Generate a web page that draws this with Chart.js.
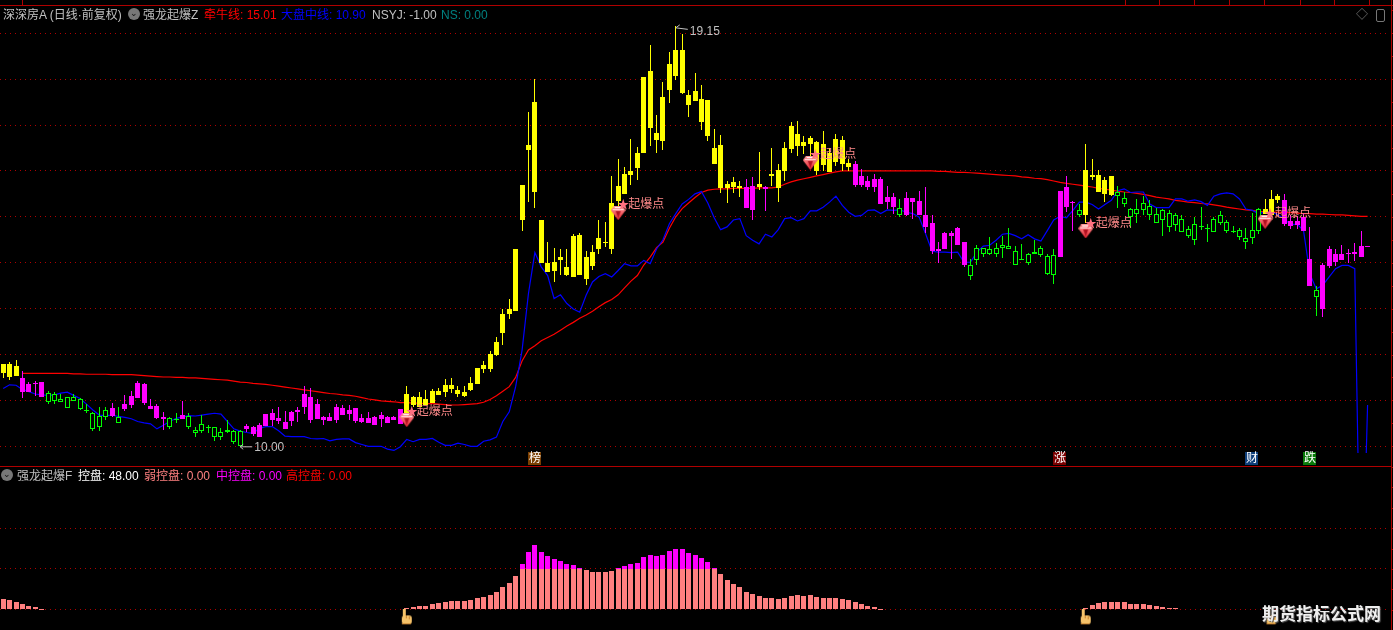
<!DOCTYPE html>
<html>
<head>
<meta charset="utf-8">
<title>深深房A</title>
<script src="https://cdn.jsdelivr.net/npm/chart.js@4/dist/chart.umd.min.js"></script>
<style>
    html, body { margin: 0; padding: 0; background: #000; overflow: hidden; width: 1393px; height: 630px; }
    body { position: relative; font: 12px "Liberation Sans", "Noto Sans CJK SC", sans-serif; color: #c0c0c0; }
    canvas { position: absolute; left: 0; display: block; }
    #mainChart { top: 0; }
    #lowerChart { top: 467px; }
    .rule { position: absolute; background: #b00000; }
    .t { position: absolute; white-space: pre; line-height: 14px; }
    .knob { position: absolute; width: 12px; height: 12px; border-radius: 50%; background: #777; color: #111; font-size: 9px; line-height: 11px; text-align: center; }
    .box { position: absolute; width: 7px; height: 11px; border: 1px solid #777; border-radius: 2px; }
    #mark { position: absolute; left: 1262px; top: 602px; font: 700 17px "Noto Sans CJK SC", sans-serif; line-height: 22px; color: #eee; text-shadow: 1px 1px 1px #555; white-space: pre; }
</style>
</head>
<body>
<canvas id="mainChart" width="1393" height="467"></canvas>
<canvas id="lowerChart" width="1393" height="163"></canvas>

<div class="rule" style="left:0;top:5px;width:1393px;height:1px"></div>
<div class="rule" style="left:0;top:466px;width:1391px;height:1px"></div>
<div class="rule" style="left:22px;top:0;width:1px;height:5px"></div>

<span class="t" style="left:3px;top:8px">深深房A (日线·前复权)</span>
<span class="knob" style="left:128px;top:8px">⌄</span>
<span class="t" style="left:143px;top:8px">强龙起爆Z</span>
<span class="t" style="left:204px;top:8px;color:#f00">牵牛线: 15.01</span>
<span class="t" style="left:281px;top:8px;color:#00f">大盘中线: 10.90</span>
<span class="t" style="left:372px;top:8px;color:#c0c0c0">NSYJ: -1.00</span>
<span class="t" style="left:441px;top:8px;color:#008080">NS: 0.00</span>
<span class="t" style="left:1356px;top:8px;color:#777">◇</span>
<span class="box" style="left:1376px;top:9px"></span>

<span class="knob" style="left:1px;top:469px">⌄</span>
<span class="t" style="left:17px;top:469px">强龙起爆F</span>
<span class="t" style="left:78px;top:469px;color:#fff">控盘: 48.00</span>
<span class="t" style="left:144px;top:469px;color:#ff8080">弱控盘: 0.00</span>
<span class="t" style="left:216px;top:469px;color:#f0f">中控盘: 0.00</span>
<span class="t" style="left:286px;top:469px;color:#f00">高控盘: 0.00</span>
<div id="mark">期货指标公式网</div>

<script>
// Candles (price units), one row per ten days
const highs = [
    11.80,11.83,11.88,11.64,11.40,11.42,11.41,11.20,11.18,11.15,
    11.08,11.13,11.05,10.93,10.75,10.85,10.85,10.94,10.86,11.12,
    11.20,11.42,11.37,11.04,10.93,10.74,10.64,10.73,10.99,10.72,
    10.43,10.68,10.46,10.43,10.39,10.57,10.36,10.36,10.49,10.45,
    10.51,10.70,10.81,10.86,10.76,10.77,10.85,11.31,11.27,11.04,
    10.67,10.72,10.93,10.90,10.91,10.83,10.70,10.75,10.67,10.75,
    10.66,10.67,10.81,11.31,11.09,11.18,11.22,11.25,11.28,11.46,
    11.49,11.31,11.31,11.51,11.70,11.86,12.07,12.39,13.00,13.20,
    14.29,15.70,17.29,18.00,14.94,14.46,14.32,14.29,14.29,14.63,
    14.64,14.25,14.38,14.94,14.88,15.90,16.27,16.09,16.70,16.53,
    18.05,18.75,17.22,17.94,18.60,19.15,18.98,17.77,18.14,17.88,
    17.55,16.92,16.79,15.77,15.86,15.79,15.82,15.86,16.42,15.68,
    16.49,16.14,16.64,17.06,17.08,16.77,16.77,16.66,16.88,16.50,
    16.80,16.75,16.27,16.22,16.05,15.90,15.94,15.86,15.68,15.51,
    15.38,15.55,15.40,15.57,15.66,15.05,14.46,14.67,14.69,14.78,
    14.46,14.07,14.38,14.31,14.55,14.44,14.59,14.75,14.36,14.40,
    14.22,14.50,14.36,14.18,14.29,15.56,15.88,15.35,15.27,16.59,
    16.25,16.01,15.86,15.88,15.67,15.54,15.20,15.38,15.46,15.36,
    15.20,15.18,15.14,15.09,15.05,14.80,14.99,15.22,14.84,15.00,
    15.12,14.92,14.80,14.75,14.75,15.09,15.20,15.38,15.59,15.49,
    15.49,15.03,15.01,15.07,14.77,13.50,13.99,14.36,14.29,14.38,
    14.29,14.42,14.68,14.36
];
const bodyTops = [
    11.80,11.80,11.76,11.49,11.36,11.37,11.40,11.17,11.13,11.04,
    11.07,11.07,11.02,10.80,10.72,10.65,10.80,10.83,10.63,10.92,
    11.09,11.38,11.36,10.88,10.88,10.64,10.61,10.60,10.68,10.65,
    10.35,10.49,10.43,10.41,10.32,10.36,10.33,10.33,10.44,10.42,
    10.46,10.70,10.72,10.62,10.53,10.75,10.79,11.15,11.07,10.93,
    10.63,10.64,10.86,10.83,10.79,10.83,10.62,10.62,10.64,10.68,
    10.64,10.63,10.81,11.14,11.07,11.07,11.03,11.20,11.20,11.33,
    11.33,11.22,11.18,11.38,11.70,11.77,12.01,12.27,12.88,12.99,
    14.29,15.70,16.57,17.50,14.94,13.99,14.02,14.12,13.90,14.59,
    14.60,14.12,14.23,14.54,14.45,15.31,15.68,15.94,16.00,16.40,
    18.05,18.18,16.83,17.62,18.33,18.64,18.64,17.66,17.75,17.57,
    17.55,16.49,16.57,15.72,15.75,15.68,15.66,15.68,15.72,15.64,
    15.94,16.03,16.49,16.97,16.81,16.62,16.72,16.64,16.59,16.38,
    16.70,16.68,16.18,16.14,15.88,15.77,15.83,15.83,15.44,15.44,
    15.20,15.40,15.40,15.35,15.05,14.86,14.29,14.64,14.64,14.75,
    14.46,13.96,14.31,14.31,14.29,14.33,14.38,14.36,14.25,14.07,
    14.20,14.23,14.33,14.14,14.16,15.56,15.65,15.32,15.14,16.03,
    15.92,15.92,15.81,15.88,15.54,15.41,15.16,15.16,15.29,15.24,
    15.07,15.14,15.09,15.05,14.96,14.74,14.84,14.80,14.75,14.96,
    15.05,14.88,14.69,14.71,14.53,14.71,15.16,15.16,15.38,15.45,
    15.36,14.91,14.91,15.00,14.09,13.40,13.94,14.29,14.20,14.20,
    14.21,14.23,14.36,14.36
];
const bodyBottoms = [
    11.60,11.50,11.53,11.18,11.18,11.35,11.07,10.97,10.99,10.97,
    10.84,10.98,10.81,10.78,10.38,10.43,10.64,10.67,10.51,10.81,
    10.90,11.06,10.94,10.81,10.62,10.59,10.43,10.58,10.59,10.41,
    10.30,10.33,10.40,10.21,10.20,10.31,10.09,10.00,10.37,10.26,
    10.21,10.44,10.57,10.55,10.38,10.55,10.75,10.86,10.57,10.59,
    10.57,10.55,10.57,10.68,10.70,10.55,10.54,10.51,10.46,10.59,
    10.51,10.57,10.49,10.73,10.90,10.86,10.90,10.94,11.12,11.18,
    11.25,11.14,11.09,11.22,11.36,11.68,11.68,11.99,12.46,12.88,
    12.94,14.92,16.46,15.54,14.00,13.80,13.82,14.05,13.73,13.69,
    13.73,13.64,13.93,14.30,14.43,14.29,15.35,15.50,15.92,16.07,
    16.38,16.94,16.68,16.66,17.77,18.07,17.70,17.44,17.53,17.07,
    16.75,16.14,15.62,15.62,15.64,15.62,15.20,15.14,15.65,15.61,
    15.90,15.63,15.99,16.47,16.55,16.55,16.59,15.99,16.12,15.98,
    16.20,16.15,16.09,15.70,15.70,15.64,15.64,15.27,15.33,15.22,
    15.03,15.03,15.33,15.03,14.78,14.25,14.25,14.30,14.58,14.39,
    13.94,13.72,14.05,14.20,14.20,14.18,14.31,14.29,13.96,14.06,
    13.99,14.20,14.17,13.75,13.73,14.12,15.22,15.30,15.03,15.03,
    15.86,15.55,15.49,15.47,15.46,15.27,14.99,15.07,15.14,15.03,
    14.86,14.92,14.77,14.83,14.66,14.59,14.49,14.78,14.73,14.66,
    14.86,14.68,14.67,14.56,14.45,14.53,14.68,15.07,15.05,15.36,
    14.84,14.80,14.82,14.70,13.49,13.25,12.99,13.92,14.01,14.05,
    14.19,14.19,14.12,14.35
];
const lows = [
    11.49,11.44,11.53,11.06,11.18,11.10,11.07,10.92,10.93,10.97,
    10.84,10.98,10.80,10.72,10.34,10.34,10.57,10.63,10.51,10.77,
    10.84,11.06,10.91,10.81,10.59,10.36,10.38,10.50,10.59,10.38,
    10.21,10.28,10.29,10.12,10.14,10.30,10.05,10.00,10.32,10.23,
    10.21,10.44,10.44,10.49,10.38,10.44,10.53,10.70,10.51,10.59,
    10.46,10.55,10.51,10.68,10.57,10.51,10.51,10.50,10.46,10.43,
    10.50,10.57,10.49,10.73,10.86,10.86,10.90,10.94,11.12,11.08,
    11.16,11.07,11.07,11.20,11.36,11.59,11.62,11.96,12.20,12.77,
    12.94,14.70,15.32,15.19,14.00,13.80,13.57,13.73,13.71,13.69,
    13.73,13.51,13.84,14.20,14.35,14.20,15.24,15.50,15.70,15.81,
    16.38,16.55,16.38,16.46,17.49,17.99,17.68,17.18,17.53,16.90,
    16.66,16.14,15.51,15.29,15.51,15.44,15.20,14.92,15.59,15.12,
    15.68,15.33,15.77,16.40,16.33,16.36,16.33,15.91,16.00,15.98,
    16.10,16.00,16.00,15.64,15.66,15.59,15.54,15.27,15.18,15.07,
    14.99,15.01,14.96,15.03,14.65,14.20,13.99,14.30,14.09,14.39,
    13.90,13.63,13.94,14.12,14.16,14.12,14.10,14.29,13.96,14.06,
    13.96,14.19,14.12,13.73,13.54,14.12,15.11,14.70,15.00,14.86,
    15.81,15.53,15.33,15.45,15.20,15.22,14.76,14.86,15.03,14.92,
    14.86,14.59,14.66,14.70,14.66,14.54,14.38,14.72,14.45,14.66,
    14.83,14.64,14.64,14.49,14.29,14.40,14.62,15.06,15.03,15.29,
    14.80,14.74,14.74,14.70,13.49,12.83,12.81,13.88,13.92,14.05,
    13.99,14.04,14.12,14.35
];
// Y yellow, M magenta, G hollow green: [colour, number of days in a row]
const colourRuns = [
    ['Y',3],['M',4],['G',10],['M',1],['G',1],['M',7],['G',2],['M',1],['G',9],['M',25],
    ['Y',53],['M',2],['Y',1],['M',1],['Y',13],['M',7],['G',1],['M',10],['G',14],['M',3],
    ['G',1],['Y',5],['G',23],['Y',3],['M',5],['G',1],['M',8]
];
// 牵牛线 (red)
const bullLine = [
    null,null,null,11.59,11.59,11.59,11.59,11.59,11.59,11.59,
    11.59,11.58,11.58,11.57,11.57,11.57,11.57,11.56,11.56,11.56,
    11.56,11.55,11.54,11.53,11.52,11.51,11.51,11.50,11.50,11.49,
    11.49,11.48,11.47,11.46,11.45,11.44,11.42,11.40,11.39,11.37,
    11.36,11.35,11.33,11.31,11.29,11.27,11.25,11.23,11.21,11.19,
    11.17,11.15,11.14,11.12,11.11,11.09,11.06,11.03,11.01,10.99,
    10.98,10.97,10.95,10.95,10.94,10.94,10.93,10.93,10.92,10.91,
    10.90,10.90,10.91,10.92,10.93,10.96,11.02,11.10,11.20,11.30,
    11.50,11.86,12.10,12.19,12.30,12.37,12.44,12.53,12.62,12.70,
    12.79,12.86,12.94,13.04,13.13,13.20,13.30,13.45,13.60,13.72,
    13.95,14.12,14.33,14.45,14.75,15.00,15.18,15.30,15.42,15.53,
    15.58,15.60,15.61,15.61,15.62,15.62,15.62,15.62,15.63,15.63,
    15.63,15.65,15.71,15.76,15.80,15.83,15.86,15.89,15.92,15.95,
    15.98,16.00,16.00,16.00,16.00,16.00,16.00,16.00,16.00,16.00,
    16.00,16.00,16.00,16.00,16.00,16.00,15.99,15.99,15.98,15.97,
    15.97,15.96,15.95,15.94,15.93,15.92,15.91,15.90,15.89,15.87,
    15.86,15.84,15.83,15.81,15.78,15.75,15.73,15.71,15.69,15.67,
    15.65,15.62,15.60,15.58,15.56,15.54,15.53,15.51,15.49,15.46,
    15.43,15.41,15.39,15.36,15.34,15.32,15.31,15.29,15.28,15.26,
    15.24,15.21,15.19,15.17,15.15,15.14,15.12,15.11,15.10,15.10,
    15.09,15.09,15.08,15.07,15.07,15.06,15.06,15.05,15.04,15.04,
    15.03,15.02,15.01,15.01
];
// 大盘中线 (blue)
const marketLine = [
    11.26,11.34,11.33,11.24,11.19,11.14,11.12,11.11,11.12,11.16,
    11.18,11.11,11.04,10.92,10.79,10.68,10.67,10.68,10.65,10.63,
    10.60,10.54,10.51,10.49,10.38,10.46,10.54,10.61,10.64,10.67,
    10.66,10.68,10.70,10.72,10.70,10.54,10.38,10.33,10.30,10.28,
    10.39,10.43,10.43,10.34,10.22,10.21,10.21,10.21,10.17,10.16,
    10.17,10.12,10.15,10.16,10.16,10.08,10.04,10.00,10.00,10.00,
    9.94,9.91,9.99,10.15,10.10,10.15,10.15,10.17,10.09,10.02,
    10.02,10.07,10.04,10.00,10.00,10.11,10.14,10.20,10.54,10.75,
    11.30,12.09,13.33,14.22,13.91,13.72,13.22,13.30,13.11,12.99,
    12.92,13.29,13.58,13.70,13.76,13.69,13.83,13.98,13.93,13.93,
    14.05,13.98,14.30,14.50,14.85,15.07,15.28,15.38,15.50,15.55,
    15.30,14.98,14.72,14.78,14.93,14.96,14.59,14.49,14.41,14.62,
    14.56,14.72,14.96,14.98,14.91,14.96,15.13,15.13,15.21,15.32,
    15.45,15.25,15.10,15.01,15.03,15.14,15.15,15.07,15.15,15.14,
    15.15,15.10,15.07,14.99,14.63,14.25,14.23,14.23,14.22,14.23,
    14.01,14.01,14.23,14.36,14.38,14.49,14.62,14.64,14.59,14.52,
    14.61,14.52,14.47,14.70,14.93,15.01,14.98,15.14,15.32,15.32,
    15.27,15.17,15.27,15.36,15.57,15.61,15.53,15.54,15.54,15.28,
    15.20,15.20,15.20,15.39,15.39,15.34,15.37,15.33,15.25,15.45,
    15.50,15.52,15.50,15.39,15.17,15.14,15.07,15.10,15.10,15.05,
    14.95,14.83,14.84,14.70,13.75,13.43,13.51,13.69,13.87,13.94,
    13.94,13.87,5.80,10.90
];
// 控盘 histogram
const control = [
    13.5,12.3,9.8,7.4,4.9,3.7,1.2,0,0,0,
    0,0,0,0,0,0,0,0,0,0,
    0,0,0,0,0,0,0,0,0,0,
    0,0,0,0,0,0,0,0,0,0,
    0,0,0,0,0,0,0,0,0,0,
    0,0,0,0,0,0,0,0,0,0,
    0,0,0,2.5,3.7,4.9,4.9,7.4,8.6,9.8,
    11,11,11,12.3,14.8,16,18.4,22,28.3,33.2,
    41.8,56.6,71.3,78.7,71.3,66.4,62.7,60.2,56.6,55.3,
    51.6,49.2,46.7,46.7,46.7,48,51.6,54.1,56.6,57.8,
    65.2,67.6,66.4,67.6,72.5,75,73.8,70,67.6,63.9,
    59,51.6,44.3,36.9,32,28.3,22,19.7,17.2,14.8,
    14.8,13.5,14.8,17.2,18.4,17.2,18.4,16,14.8,14.8,
    14.8,13.5,12.3,9.8,7.4,4.9,3.7,1.2,0,0,
    0,0,0,0,0,0,0,0,0,0,
    0,0,0,0,0,0,0,0,0,0,
    0,0,0,0,0,0,0,0,0,2.5,
    6.1,8.6,9.8,9.8,9.8,9.8,7.4,7.4,7.4,6.1,
    4.9,3.7,2.5,2.5
];

// Labels and markers
const blastDays = [63, 96, 126, 169, 197];
const blastPrices = [10.57, 15.08, 16.17, 14.68, 14.89];
const blastText = '起爆点';
const handDays = [63, 169, 198];
const handLevels = [-9, -9, -9];
const newsDays = [83, 165, 195, 204];
const newsText = ['榜', '涨', '财', '跌'];
const newsColours = ['#7a3e00', '#7a0000', '#0f3f7a', '#0a7a0a'];
const highDay = 105, highText = '19.15', highPrice = 19.15;
const lowDay = 37, lowText = '10.00', lowPrice = 10.00;
const priceGrid = [10, 11, 12, 13, 14, 15, 16, 17, 18, 19];
const controlGrid = [0, 50, 100];

// One slot per day, the last few stay empty like on the terminal
const categories = Array.from({ length: 217 }, (_, i) => String(i));

const colourOf = { Y: '#ffff00', M: '#ff00ff', G: '#00ff00' };
const dayColours = colourRuns.flatMap(([c, n]) => Array(n).fill(c));
const greyText = '#c0c0c0';
const cnFont = '12px "Liberation Sans", "Noto Sans CJK SC", sans-serif';

function makeGem() {
    const c = document.createElement('canvas');
    c.width = 15; c.height = 14;
    const g = c.getContext('2d');
    const grad = g.createLinearGradient(0, 0, 0, 14);
    grad.addColorStop(0, '#ff9a9a');
    grad.addColorStop(1, '#e8202c');
    g.fillStyle = grad;
    g.beginPath();
    g.moveTo(3, 0); g.lineTo(12, 0); g.lineTo(15, 4); g.lineTo(7.5, 14); g.lineTo(0, 4);
    g.closePath();
    g.fill();
    g.fillStyle = '#ffe0e0';
    g.fillRect(2, 3, 11, 1);
    g.fillStyle = '#ffffff';
    g.fillRect(4, 1, 7, 1);
    g.fillStyle = '#b01020';
    g.beginPath();
    g.moveTo(5, 5); g.lineTo(10, 5); g.lineTo(7.5, 12);
    g.closePath();
    g.fill();
    return c;
}

function makeHand() {
    const c = document.createElement('canvas');
    c.width = 12; c.height = 16;
    const g = c.getContext('2d');
    g.fillStyle = '#f6c36a';
    g.fillRect(2, 0, 3, 9);
    g.beginPath();
    g.roundRect(1, 6, 10, 9, 3);
    g.fill();
    g.fillStyle = '#c9822e';
    g.fillRect(1, 14, 9, 1);
    g.fillRect(5, 6, 1, 3);
    g.fillRect(8, 7, 1, 3);
    return c;
}

// Terminal draws on whole pixels, so push the bars onto the pixel grid
const snapBars = {
    id: 'snapBars',
    afterDatasetsUpdate(chart) {
        chart.getSortedVisibleDatasetMetas().forEach(meta => {
            if (meta.type !== 'bar') return;
            meta.data.forEach(el => {
                el.x = Math.floor(el.x) + 0.5;
                el.y = Math.round(el.y);
                el.base = Math.round(el.base);
                if (el.y === el.base) el.base = el.y + 1;
            });
        });
    }
};

function drawRightEdge(chart, step, from, to) {
    const ctx = chart.ctx, y = chart.scales.y;
    ctx.save();
    ctx.fillStyle = '#b00000';
    ctx.fillRect(1391, 0, 1, chart.height);
    for (let v = from; v <= to; v += step) {
        ctx.fillRect(1391, Math.round(y.getPixelForValue(v)), 2, 1);
    }
    ctx.restore();
}

const mainOverlay = {
    id: 'mainOverlay',
    afterDraw(chart) {
        const ctx = chart.ctx, x = chart.scales.x, y = chart.scales.y;
        ctx.save();
        ctx.font = cnFont;
        ctx.textBaseline = 'middle';

        blastDays.forEach((day, k) => {
            const px = x.getPixelForValue(day), py = y.getPixelForValue(blastPrices[k]);
            ctx.fillStyle = '#ff7080';
            ctx.textAlign = 'center';
            ctx.fillText('★', px + 5, py - 7);
            ctx.fillStyle = '#ff8a8a';
            ctx.textAlign = 'left';
            ctx.fillText(blastText, px + 10, py - 8);
        });

        // highest and lowest price tags
        ctx.fillStyle = greyText;
        ctx.strokeStyle = greyText;
        ctx.lineWidth = 1;
        const hx = x.getPixelForValue(highDay), hy = y.getPixelForValue(highPrice);
        ctx.beginPath();
        ctx.moveTo(hx, hy + 1.5); ctx.lineTo(hx + 4, hy - 1.5);
        ctx.moveTo(hx, hy + 1.5); ctx.lineTo(hx + 12, hy + 3);
        ctx.stroke();
        ctx.fillText(highText, hx + 14, hy + 5);
        const lx = x.getPixelForValue(lowDay), ly = y.getPixelForValue(lowPrice);
        ctx.beginPath();
        ctx.moveTo(lx, ly + 0.5); ctx.lineTo(lx + 12, ly + 0.5);
        ctx.moveTo(lx, ly + 0.5); ctx.lineTo(lx + 3, ly - 2);
        ctx.moveTo(lx, ly + 0.5); ctx.lineTo(lx + 3, ly + 3);
        ctx.stroke();
        ctx.fillText(lowText, lx + 14, ly + 1);

        // news tags under the candles
        ctx.textAlign = 'center';
        newsDays.forEach((day, k) => {
            const px = Math.round(x.getPixelForValue(day));
            ctx.fillStyle = newsColours[k];
            ctx.fillRect(px - 7, 452, 13, 13);
            ctx.fillStyle = '#fff';
            ctx.fillText(newsText[k], px, 459);
        });
        ctx.restore();
        drawRightEdge(chart, 0.5, 10, 19.5);
    }
};

const lowerOverlay = {
    id: 'lowerOverlay',
    afterDraw(chart) {
        drawRightEdge(chart, 25, 0, 175);
    }
};

function gridScale(ticks, min, max) {
    return {
        min: min,
        max: max,
        stacked: true,
        afterBuildTicks: axis => { axis.ticks = ticks.map(v => ({ value: v })); },
        afterFit: axis => { axis.width = 0; },
        ticks: { display: false },
        grid: { color: '#b00000', lineWidth: 1, drawTicks: false, tickLength: 0 },
        border: { display: false, dash: [1, 4] }
    };
}

new Chart(document.getElementById('mainChart'), {
    type: 'bar',
    data: {
        labels: categories,
        datasets: [
            {
                type: 'line', label: '牵牛线', data: bullLine, order: 5,
                borderColor: '#ff0000', borderWidth: 1.2, pointRadius: 0, tension: 0
            },
            {
                type: 'line', label: '大盘中线', data: marketLine, order: 4,
                borderColor: '#0000ff', borderWidth: 1.2, pointRadius: 0, tension: 0
            },
            {
                label: 'wick', order: 3, grouped: false, barThickness: 1, inflateAmount: 0,
                data: lows.map((v, i) => [v, highs[i]]),
                backgroundColor: dayColours.map(c => colourOf[c]),
                borderWidth: 0
            },
            {
                label: 'body', order: 2, grouped: false, barThickness: 5, inflateAmount: 0,
                data: bodyBottoms.map((v, i) => [v, bodyTops[i]]),
                backgroundColor: dayColours.map(c => c === 'G' ? '#000000' : colourOf[c]),
                borderColor: dayColours.map(c => colourOf[c]),
                borderWidth: dayColours.map(c => c === 'G' ? 1 : 0),
                borderSkipped: false
            },
            {
                type: 'line', label: '起爆点', order: 1, showLine: false,
                data: blastDays.map((d, k) => ({ x: categories[d], y: blastPrices[k] })),
                pointStyle: makeGem(), pointRadius: 7
            }
        ]
    },
    options: {
        responsive: false,
        animation: false,
        layout: { autoPadding: false, padding: { top: 6, bottom: 14, right: 3 } },
        plugins: { legend: { display: false }, tooltip: { enabled: false } },
        scales: {
            x: { display: false, offset: true, stacked: false },
            y: Object.assign(gridScale(priceGrid, 9.854, 19.593), { stacked: false })
        }
    },
    plugins: [snapBars, mainOverlay]
});

new Chart(document.getElementById('lowerChart'), {
    type: 'bar',
    data: {
        labels: categories,
        datasets: [
            {
                label: '弱控盘', order: 2, stack: 'c', barThickness: 5, inflateAmount: 0,
                data: control.map(v => v > 0 ? Math.min(v, 50) : null),
                backgroundColor: '#ff8080'
            },
            {
                label: '中控盘', order: 2, stack: 'c', barThickness: 5, inflateAmount: 0,
                data: control.map(v => v > 50 ? v - 50 : null),
                backgroundColor: '#ff00ff'
            },
            {
                type: 'line', label: 'hand', order: 1, showLine: false,
                data: handDays.map((d, k) => ({ x: categories[d], y: handLevels[k] })),
                pointStyle: makeHand(), pointRadius: 8
            }
        ]
    },
    options: {
        responsive: false,
        animation: false,
        layout: { autoPadding: false, padding: { right: 3 } },
        plugins: { legend: { display: false }, tooltip: { enabled: false } },
        scales: {
            x: { display: false, offset: true, stacked: true },
            y: gridScale(controlGrid, -24.4, 174.4)
        }
    },
    plugins: [snapBars, lowerOverlay]
});

// Cells of the cut-off tab strip along the top edge
[1125, 1159, 1194, 1229, 1264, 1300, 1334, 1369].forEach(left => {
    const cell = document.createElement('div');
    cell.className = 'rule';
    cell.style.cssText = 'left:' + left + 'px;top:0;width:1px;height:5px';
    document.body.appendChild(cell);
});
</script>
</body>
</html>
